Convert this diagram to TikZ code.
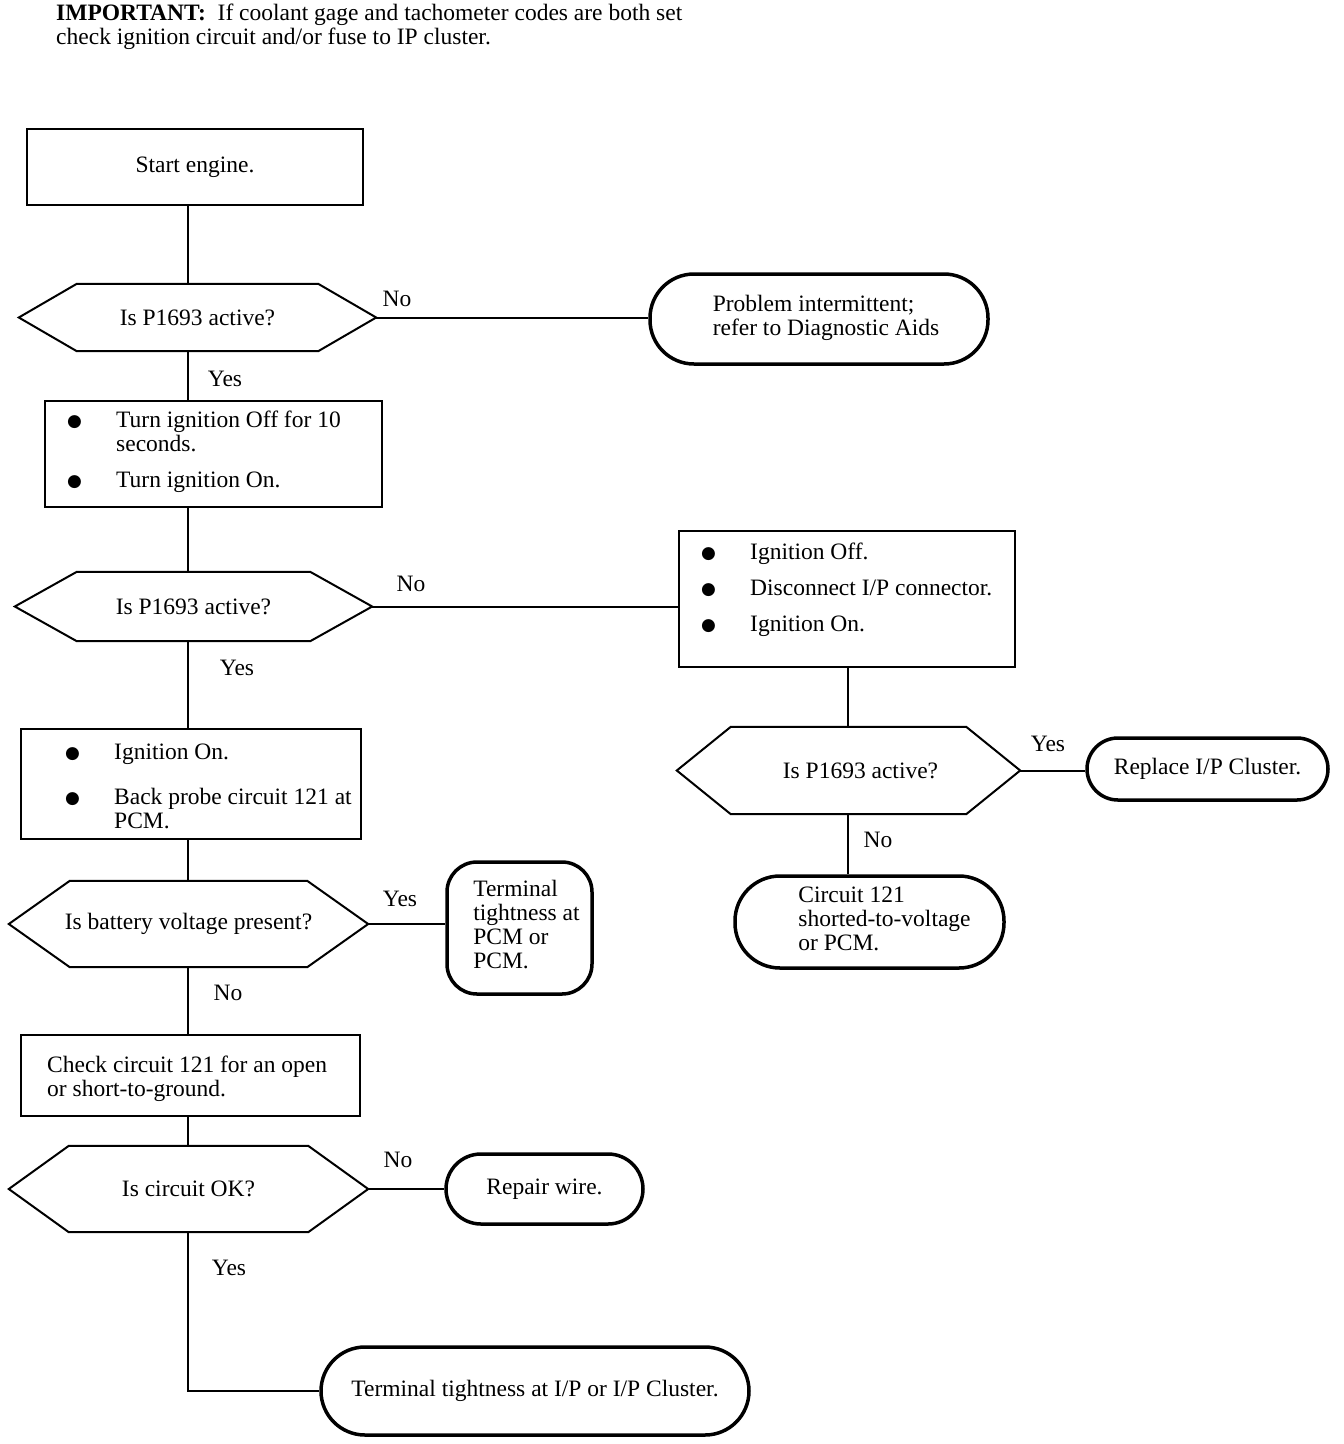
\documentclass[tikz,border=0pt]{standalone}
\usepackage{fontspec}
\setmainfont{Liberation Serif}
\newfontfamily\symf{DejaVu Sans}
\newcommand\bl{\makebox[49pt][l]{\raisebox{1pt}{\symf\fontsize{17}{17}\selectfont ●}}}
\newcommand\hexdec[7]{%
  \node[hexbox, minimum width=#4pt, minimum height=#5pt] (#1) at (#2,#3) {#7};
  \draw[line] (#1.west) -- ([xshift=#6pt]#1.north west) -- ([xshift=-#6pt]#1.north east)
    -- (#1.east) -- ([xshift=-#6pt]#1.south east) -- ([xshift=#6pt]#1.south west) -- cycle;}
\begin{document}
\begin{tikzpicture}[x=1pt,y=-1pt, font=\fontsize{23.5}{24}\selectfont,
  line/.style={line width=2pt},
  boxn/.style={draw, line width=2pt, rectangle, inner sep=0pt, align=left},
  term/.style={draw, line width=3.5pt, rectangle, rounded corners=#1, inner sep=0pt, align=left},
  hexbox/.style={rectangle, inner sep=0pt, align=center},
  txt/.style={inner sep=0pt, align=left, anchor=west},
  lab/.style={inner sep=0pt}]
\useasboundingbox (0,0) rectangle (1344,1444);

\node[txt] (hdr) at (56,27) {\textbf{IMPORTANT:}\ \ If coolant gage and tachometer codes are both set\\check ignition circuit and/or fuse to IP cluster.};

\coordinate (col) at (188,0);
\coordinate (col2) at (848,0);

% left column
\node[boxn, minimum width=336pt, minimum height=76pt] (b1) at (195,167) {\raisebox{4pt}{Start engine.}};
\hexdec{h1}{197.5}{317.5}{357}{67}{58}{Is P1693 active?}
\node[boxn, minimum width=337pt, minimum height=106pt] (b2) at (213.5,454) {};
\node[txt] (t2) at (67,452) {\bl Turn ignition Off for 10\\\hspace*{49pt}seconds.\\[12pt]\bl Turn ignition On.};
\hexdec{h2}{193.5}{606.5}{357}{69}{62}{Is P1693 active?}
\node[boxn, minimum width=340pt, minimum height=110pt] (b4) at (191,784) {};
\node[txt] (t4) at (65,786) {\bl Ignition On.\\[21pt]\bl Back probe circuit 121 at\\\hspace*{49pt}PCM.};
\hexdec{h4}{188.5}{924}{359}{86}{61}{Is battery voltage present?}
\node[boxn, minimum width=339pt, minimum height=81pt] (b5) at (190.5,1075.5) {};
\node[txt] (t5) at (47,1079) {Check circuit 121 for an open\\or short-to-ground.};
\hexdec{h5}{188.5}{1189}{359}{86}{60}{Is circuit OK?}

% right side
\node[term=44pt, minimum width=338pt, minimum height=90pt] (prob) at (819,319) {\hspace*{14pt}\begin{tabular}{@{}l@{}}Problem intermittent;\\refer to Diagnostic Aids\end{tabular}};
\node[boxn, minimum width=336pt, minimum height=136pt] (b3) at (847,599) {};
\node[txt] (t3) at (701,590) {\bl Ignition Off.\\[12pt]\bl Disconnect I/P connector.\\[12pt]\bl Ignition On.};
\hexdec{h3}{848.5}{770.5}{343}{87}{54}{\hspace*{24pt}Is P1693 active?}
\node[term=31pt, minimum width=241pt, minimum height=62pt] (repl) at (1207.5,769) {Replace I/P Cluster.};
\node[term=45pt, minimum width=269pt, minimum height=92pt] (c121) at (869.5,922) {\hspace*{30pt}\begin{tabular}{@{}l@{}}Circuit 121\\shorted-to-voltage\\or PCM.\end{tabular}};
\node[term=30pt, minimum width=145pt, minimum height=132pt] (pcm) at (519.5,928) {\hspace*{14pt}\begin{tabular}{@{}l@{}}Terminal\\tightness at\\PCM or\\PCM.\end{tabular}};
\node[term=35pt, minimum width=197pt, minimum height=70pt] (rep) at (544.5,1189) {Repair wire.};
\node[term=44pt, minimum width=428pt, minimum height=88pt] (fin) at (535,1391) {Terminal tightness at I/P or I/P Cluster.};

% connectors
\draw[line] (b1.south -| col) -- (h1.north -| col);
\draw[line] (h1.south -| col) -- (b2.north -| col);
\draw[line] (b2.south -| col) -- (h2.north -| col);
\draw[line] (h2.south -| col) -- (b4.north -| col);
\draw[line] (b4.south -| col) -- (h4.north -| col);
\draw[line] (h4.south -| col) -- (b5.north -| col);
\draw[line] (b5.south -| col) -- (h5.north -| col);
\draw[line] (h5.south -| col) -- (col |- fin.west) -- (fin.west);
\draw[line] (h1.east) -- (h1.east -| prob.west);
\draw[line] (h2.east) -- (h2.east -| b3.west);
\draw[line] (b3.south -| col2) -- (h3.north -| col2);
\draw[line] (h3.east) -- (h3.east -| repl.west);
\draw[line] (h3.south -| col2) -- (c121.north -| col2);
\draw[line] (h4.east) -- (h4.east -| pcm.west);
\draw[line] (h5.east) -- (h5.east -| rep.west);

% labels
\node[lab] (l1) at (397,299) {No};
\node[lab] (l2) at (225,379) {Yes};
\node[lab] (l3) at (411,584) {No};
\node[lab] (l4) at (237,668) {Yes};
\node[lab] (l5) at (1048,744) {Yes};
\node[lab] (l6) at (878,840) {No};
\node[lab] (l7) at (400,899) {Yes};
\node[lab] (l8) at (228,993) {No};
\node[lab] (l9) at (398,1160) {No};
\node[lab] (l10) at (229,1268) {Yes};
\end{tikzpicture}
\end{document}
